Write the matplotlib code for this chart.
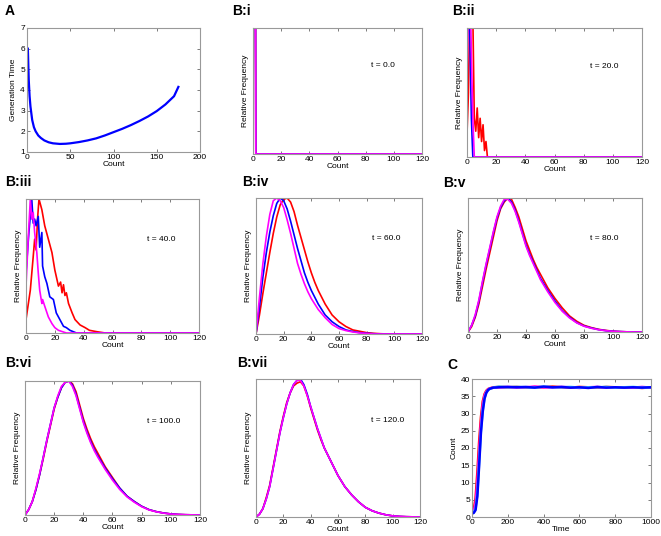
import matplotlib
matplotlib.use("Agg")
import matplotlib.pyplot as plt

plt.rcParams['font.family'] = ['Liberation Sans', 'DejaVu Sans']

RED, BLUE, MAGENTA, CYAN = '#ff0000', '#0000ff', '#ff00ff', '#33ccff'

# --- Panel A : generation time as a function of count
a_count = [1, 2, 3, 4, 6, 8, 10, 13, 16, 20, 25, 30, 38, 45, 50, 60, 70, 80,
           90, 100, 110, 120, 130, 140, 150, 160, 170, 175]
a_gen_time = [6.0, 4.5, 3.7, 3.2, 2.55, 2.2, 2.0, 1.8, 1.68, 1.56, 1.47, 1.42, 1.39, 1.40,
              1.42, 1.48, 1.56, 1.66, 1.8, 1.96, 2.12, 2.3, 2.5, 2.72, 2.98, 3.3, 3.7, 4.15]

# --- Panels B : relative frequency of counts at several times
b_times = ['0.0', '20.0', '40.0', '60.0', '80.0', '100.0', '120.0']

# t = 0 : every cell starts at count 1
i_count = [0, 1, 2, 120]
i_red = [0, 5, 0, 0]
i_blue = [0, 5, 0, 0]
i_magenta = [0, 5, 0, 0]

# t = 20 : very narrow and noisy
ii_count = list(range(16)) + [120]
ii_red = [0.18, 0.5, 1.3, 1.5, 1.1, 0.3, 0.2, 0.38, 0.15, 0.3, 0.12, 0.25, 0.05, 0.12, 0.0, 0.0, 0.0]
ii_blue = [0.8, 1.4, 0.9, 0.3, 0.0, 0, 0, 0, 0, 0, 0, 0, 0, 0, 0, 0, 0]
ii_magenta = [0.5, 1.5, 1.4, 0.8, 0.3, 0.0, 0, 0, 0, 0, 0, 0, 0, 0, 0, 0, 0]

# t = 40
iii_red_x = [0, 3, 5, 6, 7, 8, 9, 11, 13, 15.5, 18, 20, 22.5, 24, 25, 26, 27, 28, 29.5,
             32, 34, 37.5, 41, 44, 49, 55, 120]
iii_red = [0.1, 0.32, 0.57, 0.7, 0.62, 0.85, 1.0, 0.92, 0.8, 0.7, 0.6, 0.47, 0.35, 0.38,
           0.3, 0.36, 0.28, 0.3, 0.22, 0.15, 0.1, 0.06, 0.04, 0.02, 0.01, 0.0, 0.0]
iii_blue_x = [0, 2, 4, 5, 6, 7, 8.5, 9.5, 11, 11.5, 13, 14.5, 16.5, 19, 21, 23.5, 26, 28,
              30.5, 35, 120]
iii_blue = [0.45, 0.75, 1.0, 0.82, 0.85, 0.8, 0.87, 0.64, 0.75, 0.5, 0.42, 0.37, 0.27,
            0.25, 0.15, 0.1, 0.05, 0.04, 0.02, 0.0, 0.0]
iii_magenta_x = [0, 1.5, 3, 4, 5, 6, 7.5, 8.5, 9.5, 11, 11.5, 13, 15.5, 18, 20, 22.5, 28, 120]
iii_magenta = [0.35, 0.7, 1.0, 0.85, 0.9, 0.75, 0.6, 0.45, 0.32, 0.22, 0.25, 0.2, 0.12,
               0.07, 0.04, 0.02, 0.0, 0.0]

# t = 60 .. 120 : smooth curves, finer grid below 50
smooth_count = [i * 2.5 for i in range(21)] + list(range(55, 125, 5))
iv_red = [0, 0.14, 0.3, 0.45, 0.6, 0.74, 0.86, 0.95, 0.99, 1.0, 0.97, 0.9, 0.8, 0.71,
          0.62, 0.53, 0.45, 0.38, 0.32, 0.27, 0.22,
          0.14, 0.09, 0.055, 0.03, 0.02, 0.01, 0.005, 0.002, 0, 0, 0, 0, 0, 0]
iv_blue = [0, 0.2, 0.42, 0.6, 0.75, 0.87, 0.96, 1.0, 0.98, 0.92, 0.83, 0.73, 0.63, 0.54,
           0.45, 0.38, 0.32, 0.27, 0.22, 0.18, 0.14,
           0.09, 0.055, 0.03, 0.018, 0.01, 0.005, 0.002, 0, 0, 0, 0, 0, 0, 0]
iv_magenta = [0, 0.27, 0.52, 0.72, 0.88, 0.98, 1.0, 0.98, 0.93, 0.84, 0.74, 0.63, 0.52,
              0.44, 0.37, 0.31, 0.26, 0.22, 0.18, 0.15, 0.12,
              0.07, 0.04, 0.025, 0.015, 0.008, 0.004, 0, 0, 0, 0, 0, 0, 0, 0]

v_red = [0, 0.04, 0.11, 0.21, 0.34, 0.47, 0.59, 0.71, 0.83, 0.92, 0.97, 1.0, 0.99, 0.93,
         0.86, 0.77, 0.68, 0.61, 0.54, 0.48, 0.43,
         0.33, 0.25, 0.18, 0.12, 0.08, 0.05, 0.033, 0.02, 0.012, 0.006, 0.003, 0.001, 0, 0]
v_blue = [0, 0.05, 0.12, 0.23, 0.37, 0.5, 0.62, 0.74, 0.85, 0.93, 0.98, 1.0, 0.97, 0.91,
          0.83, 0.74, 0.65, 0.58, 0.52, 0.46, 0.4,
          0.31, 0.23, 0.16, 0.11, 0.07, 0.045, 0.03, 0.018, 0.01, 0.005, 0.003, 0.001, 0, 0]
v_magenta = [0, 0.05, 0.13, 0.24, 0.38, 0.51, 0.63, 0.75, 0.86, 0.94, 0.99, 0.99, 0.96,
             0.9, 0.82, 0.73, 0.64, 0.57, 0.51, 0.45, 0.39,
             0.3, 0.22, 0.155, 0.105, 0.068, 0.043, 0.028, 0.017, 0.01, 0.005, 0.002, 0.001, 0, 0]

vi_red = [0, 0.04, 0.1, 0.19, 0.3, 0.42, 0.55, 0.67, 0.79, 0.88, 0.95, 0.99, 1.0, 0.98,
          0.92, 0.82, 0.72, 0.64, 0.57, 0.51, 0.46,
          0.36, 0.28, 0.2, 0.14, 0.1, 0.065, 0.04, 0.025, 0.015, 0.008, 0.004, 0.002, 0.001, 0]
vi_blue = [0, 0.04, 0.1, 0.19, 0.3, 0.43, 0.56, 0.68, 0.8, 0.88, 0.95, 0.99, 1.0, 0.97,
           0.9, 0.8, 0.7, 0.62, 0.55, 0.49, 0.44,
           0.35, 0.27, 0.2, 0.14, 0.1, 0.065, 0.04, 0.025, 0.015, 0.008, 0.004, 0.002, 0.001, 0]
vi_magenta = [0, 0.04, 0.1, 0.2, 0.31, 0.43, 0.56, 0.68, 0.8, 0.89, 0.96, 0.99, 1.0, 0.96,
              0.89, 0.79, 0.69, 0.61, 0.54, 0.48, 0.43,
              0.34, 0.26, 0.19, 0.135, 0.095, 0.062, 0.038, 0.024, 0.014, 0.007, 0.004, 0.002, 0.001, 0]

vii_red = [0, 0.02, 0.06, 0.14, 0.23, 0.36, 0.49, 0.62, 0.73, 0.83, 0.9, 0.95, 0.97, 0.98,
           0.95, 0.88, 0.79, 0.71, 0.63, 0.56, 0.5,
           0.4, 0.3, 0.22, 0.16, 0.11, 0.07, 0.045, 0.028, 0.016, 0.008, 0.004, 0.002, 0.001, 0]
vii_blue = [0, 0.02, 0.06, 0.13, 0.22, 0.35, 0.48, 0.61, 0.72, 0.82, 0.9, 0.96, 0.99, 1.0,
            0.96, 0.89, 0.8, 0.72, 0.64, 0.57, 0.5,
            0.4, 0.3, 0.22, 0.16, 0.11, 0.07, 0.045, 0.028, 0.016, 0.008, 0.004, 0.002, 0.001, 0]
vii_magenta = [0, 0.02, 0.06, 0.13, 0.22, 0.35, 0.48, 0.61, 0.72, 0.82, 0.9, 0.96, 0.99,
               0.99, 0.95, 0.88, 0.8, 0.72, 0.64, 0.57, 0.5,
               0.4, 0.3, 0.22, 0.16, 0.11, 0.07, 0.045, 0.028, 0.016, 0.008, 0.004, 0.002, 0.001, 0]

# --- Panel C : mean count against time
c_time = [0, 10, 20, 30, 40, 50, 60, 70, 80, 90, 100, 120, 150, 200, 250, 300, 350, 400,
          450, 500, 550, 600, 650, 700, 750, 800, 850, 900, 950, 1000]
c_red = [1.3, 2.2, 5.5, 13, 22, 29, 33.5, 35.6, 36.6, 37.1, 37.3, 37.6, 37.7, 37.6, 37.7,
         37.5, 37.7, 37.6, 37.8, 37.6, 37.5, 37.7, 37.6, 37.5, 37.7, 37.6, 37.5, 37.6, 37.4, 37.6]
c_magenta = [1.1, 1.7, 4, 10, 19, 27, 32.5, 35.2, 36.4, 37, 37.3, 37.5, 37.6, 37.7, 37.5,
             37.6, 37.8, 37.6, 37.5, 37.7, 37.6, 37.4, 37.6, 37.7, 37.5, 37.6, 37.6, 37.5, 37.7, 37.5]
c_cyan = [1.0, 1.3, 2.5, 7, 16, 25, 31, 34.5, 36.1, 36.8, 37.2, 37.5, 37.8, 37.6, 37.7,
          37.6, 37.5, 37.8, 37.6, 37.6, 37.7, 37.5, 37.6, 37.6, 37.7, 37.5, 37.6, 37.7, 37.5, 37.6]
c_blue = [1.0, 1.2, 2.0, 6, 15, 24.5, 30.5, 34.3, 36, 36.8, 37.2, 37.5, 37.6, 37.7, 37.6,
          37.7, 37.5, 37.8, 37.6, 37.7, 37.5, 37.6, 37.4, 37.7, 37.5, 37.6, 37.5, 37.6, 37.5, 37.6]

W, H = 661, 536
# axes boxes in pixels: left, top, right, bottom
boxes = {
    'A': (27, 28, 200, 152), 'B:i': (253, 28, 422, 154), 'B:ii': (467, 28, 642, 157),
    'B:iii': (26, 199, 199, 333), 'B:iv': (256, 198, 422, 334), 'B:v': (468, 198, 642, 332),
    'B:vi': (25, 381, 200, 515), 'B:vii': (256, 379, 420, 517), 'C': (472, 379, 651, 517),
}
label_pos = {
    'A': (5, 4), 'B:i': (232, 4), 'B:ii': (452, 4), 'B:iii': (5, 175), 'B:iv': (242, 175),
    'B:v': (443, 176), 'B:vi': (5, 356), 'B:vii': (237, 356), 'C': (447, 358),
}


def make_axes(fig, name):
    """Cree un axe au style matlab (ticks vers l'interieur, cadre gris)."""
    l, t, r, b = boxes[name]
    ax = fig.add_axes([l / W, 1 - b / H, (r - l) / W, (b - t) / H])
    for s in ax.spines.values():
        s.set_color('#999999')
        s.set_linewidth(0.8)
    ax.tick_params(direction='in', length=2.5, width=0.6, color='#666666',
                   labelsize=6, pad=1.5, top=True, right=True)
    lx, ly = label_pos[name]
    fig.text(lx / W, 1 - ly / H, name, fontsize=10, fontweight='bold', va='top', ha='left')
    return ax


def plot_distribution(fig, name, t_label, curves):
    """Trace une distribution de comptes (rouge, bleu, magenta)."""
    ax = make_axes(fig, name)
    for x, y, c in curves:
        ax.plot(x, y, color=c, lw=1.2)
    ax.set_xlim(0, 120)
    ax.set_ylim(0, 1.0)
    ax.set_xticks(range(0, 121, 20))
    ax.set_yticks([])
    ax.set_xlabel('Count', fontsize=6, labelpad=0)
    ax.set_ylabel('Relative Frequency', fontsize=6, labelpad=3)
    ax.text(84, 0.7, 't = ' + t_label, fontsize=6, ha='left', va='center')
    return ax


fig = plt.figure(figsize=(W / 100, H / 100), dpi=100)

ax = make_axes(fig, 'A')
ax.plot(a_count, a_gen_time, color=BLUE, lw=1.6)
ax.set_xlim(0, 200)
ax.set_ylim(1, 7)
ax.set_xticks(range(0, 201, 50))
ax.set_yticks(range(1, 8))
ax.set_xlabel('Count', fontsize=6, labelpad=0)
ax.set_ylabel('Generation Time', fontsize=6, labelpad=2)

plot_distribution(fig, 'B:i', b_times[0],
                  [(i_count, i_red, RED), (i_count, i_blue, BLUE), (i_count, i_magenta, MAGENTA)])
plot_distribution(fig, 'B:ii', b_times[1],
                  [(ii_count, ii_red, RED), (ii_count, ii_blue, BLUE), (ii_count, ii_magenta, MAGENTA)])
plot_distribution(fig, 'B:iii', b_times[2],
                  [(iii_red_x, iii_red, RED), (iii_blue_x, iii_blue, BLUE),
                   (iii_magenta_x, iii_magenta, MAGENTA)])
plot_distribution(fig, 'B:iv', b_times[3],
                  [(smooth_count, iv_red, RED), (smooth_count, iv_blue, BLUE),
                   (smooth_count, iv_magenta, MAGENTA)])
plot_distribution(fig, 'B:v', b_times[4],
                  [(smooth_count, v_red, RED), (smooth_count, v_blue, BLUE),
                   (smooth_count, v_magenta, MAGENTA)])
plot_distribution(fig, 'B:vi', b_times[5],
                  [(smooth_count, vi_red, RED), (smooth_count, vi_blue, BLUE),
                   (smooth_count, vi_magenta, MAGENTA)])
plot_distribution(fig, 'B:vii', b_times[6],
                  [(smooth_count, vii_red, RED), (smooth_count, vii_blue, BLUE),
                   (smooth_count, vii_magenta, MAGENTA)])

ax = make_axes(fig, 'C')
for y, c in [(c_red, RED), (c_magenta, MAGENTA), (c_cyan, CYAN), (c_blue, BLUE)]:
    ax.plot(c_time, y, color=c, lw=1.8)
ax.set_xlim(0, 1000)
ax.set_ylim(0, 40)
ax.set_xticks(range(0, 1001, 200))
ax.set_yticks(range(0, 41, 5))
ax.set_xlabel('Time', fontsize=6, labelpad=0)
ax.set_ylabel('Count', fontsize=6, labelpad=2)

fig.savefig('out.png', dpi=100)
